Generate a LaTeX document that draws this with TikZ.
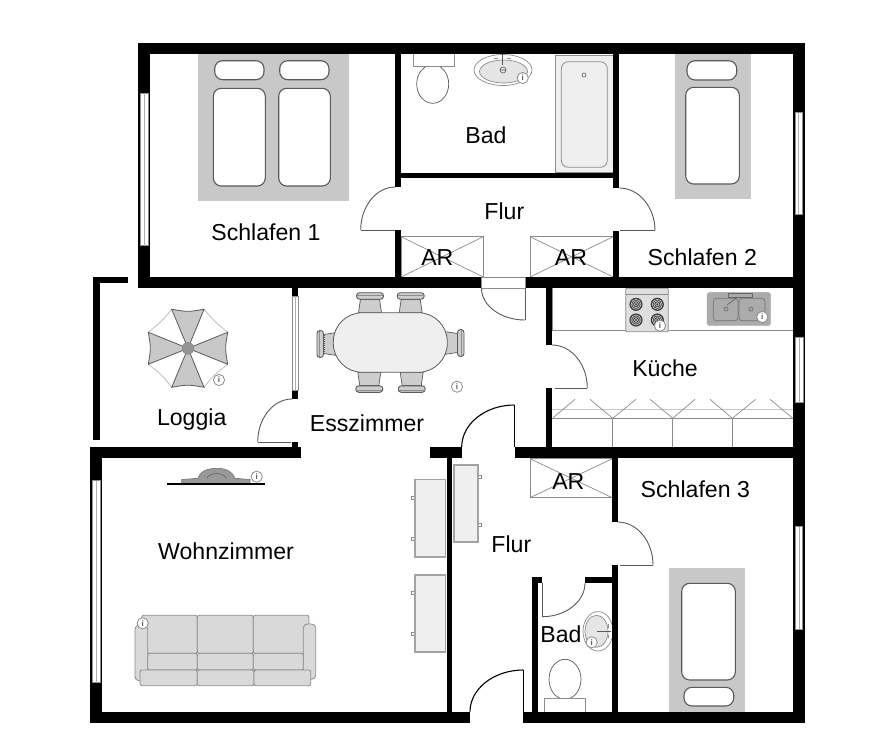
\documentclass[tikz,border=0pt]{standalone}
\usepackage{fontspec}
\setmainfont{Liberation Sans}
\definecolor{bedgrey}{HTML}{C8C8C8}
\definecolor{linegrey}{HTML}{8C8C8C}
\definecolor{darkline}{HTML}{5A5A5A}
\definecolor{softfill}{HTML}{F0EFF0}
\definecolor{sofafill}{HTML}{D9D9D9}
\definecolor{chairfill}{HTML}{CDCDCD}
\definecolor{sinkfill}{HTML}{ABABAB}
\tikzset{
  wall/.style={fill=black,draw=none},
  windowpane/.style={fill=white,draw=linegrey,line width=.8pt},
  lbl/.style={anchor=base,inner sep=0pt,font=\fontsize{23.1}{26}\selectfont,text=black},
  doorleaf/.style={draw=darkline,line width=.9pt},
  doorblack/.style={draw=black,line width=1.1pt},
  mattress/.style={fill=white,draw=darkline,line width=1.1pt,rounded corners=8pt},
  pillowbox/.style={fill=white,draw=darkline,line width=1.1pt,rounded corners=8pt},
  bedbase/.style={fill=bedgrey,draw=none},
  closetbox/.style={fill=white,draw=linegrey,line width=.8pt},
  closetx/.style={draw=linegrey,line width=.7pt},
  cabinet/.style={fill=softfill,draw=linegrey!80!white,line width=1.6pt},
  knob/.style={fill=white,draw=linegrey,line width=.7pt},
  fixture/.style={fill=white,draw=darkline,line width=.7pt},
  sinkline/.style={draw=linegrey,line width=.7pt},
  sofapart/.style={fill=sofafill,draw=linegrey,line width=.8pt,rounded corners=2pt},
  sofaarm/.style={fill=sofafill,draw=linegrey,line width=.8pt,rounded corners=4pt},
  counter/.style={draw=linegrey,line width=1pt},
  info/.pic={
    \filldraw[fill=white,draw=linegrey,line width=.8pt] (0,0) circle (5.6);
    \node[inner sep=0pt,text=darkline,font=\fontsize{8}{8}\selectfont\bfseries] (g) at (0,0) {i};
  },
  chair/.pic={
    \filldraw[fill=chairfill,draw=darkline,line width=.7pt] (-11.5,0) -- (-9.5,-13.5) -- (9.5,-13.5) -- (11.5,0) -- cycle;
    \filldraw[fill=chairfill,draw=darkline,line width=.9pt,rounded corners=3pt] (-13.5,-20) rectangle (13.5,-13.5);
    \draw[darkline,line width=1pt,dash pattern=on 1pt off 1pt] (-10,-13) -- (10,-13);
    \draw[linegrey,line width=.6pt] (-13,-17.5) -- (13,-17.5);
  }
}
\newcommand{\qarc}[5]{\draw[#1] (#2,#3) .. controls ({#2+.55*(#4-#2)},#3) and (#4,{#5-.55*(#5-#3)}) .. (#4,#5);}
\newcommand{\burner}[2]{%
  \fill[black!75] (#1,#2) circle (6.6);
  \draw[white!85!black,line width=.5pt] (#1,#2) circle (5) (#1,#2) circle (3.4) (#1,#2) circle (1.8);
}
\begin{document}
\begin{tikzpicture}[x=1pt,y=-1pt]
\useasboundingbox (0,0) rectangle (869,745);
\fill[white] (0,0) rectangle (869,745);

% ---------- fixtures under the walls
% Schlafen 1 bed
\fill[bedbase] (198.3,50) rectangle (349,200.7);
\draw[pillowbox] (214.7,60.7) rectangle (264,79.7);
\draw[pillowbox] (279.7,60.7) rectangle (329,79.7);
\draw[mattress] (213.3,88.3) rectangle (265.3,186);
\draw[mattress] (278.7,88.3) rectangle (330.3,186);
% Schlafen 2 bed
\fill[bedbase] (675,50) rectangle (751,198.7);
\draw[pillowbox] (687,60.7) rectangle (736.7,80);
\draw[mattress] (685.7,87.3) rectangle (739.3,184);
% Schlafen 3 bed
\fill[bedbase] (669,567.7) rectangle (745,715);
\draw[mattress] (681.7,583.3) rectangle (735.3,680);
\draw[pillowbox] (684,687.3) rectangle (733.7,706);
% Bad top: toilet
\draw[fixture] (432.7,84) ellipse [x radius=16,y radius=19.3];
\filldraw[fill=white,draw=linegrey,line width=.8pt] (413.3,50) rectangle (454,66.7);
% Bad top: sink
\draw[sinkline,fill=white] (503,70) ellipse [x radius=29,y radius=15.5];
\draw[sinkline,fill=black!10] (503.5,71.5) ellipse [x radius=24,y radius=11.5];
\draw[darkline,line width=1.4pt] (502.7,54) -- (502.7,65);
\draw[linegrey,line width=1pt] (494,58.5) -- (498,58.5) (507,58.5) -- (511,58.5);
\draw[darkline,line width=.6pt] (503,70) circle (3) (500,70) -- (506,70);
\pic (infa) at (522.7,78) {info};
% Bathtub
\filldraw[fill=softfill,draw=linegrey,line width=.8pt] (555.7,55) rectangle (613.3,172.7);
\filldraw[fill=softfill,draw=linegrey,line width=.8pt,rounded corners=7pt] (561.3,61.7) rectangle (607.3,167.3);
\draw[darkline,line width=.6pt] (584,75) circle (2);
% AR closets
\draw[closetbox] (401,236.7) rectangle (483.3,277);
\draw[closetx] (401,236.7) -- (483.3,277) (401,277) -- (483.3,236.7);
\draw[closetbox] (530,236.7) rectangle (613.3,277);
\draw[closetx] (530,236.7) -- (613.3,277) (530,277) -- (613.3,236.7);
\draw[closetbox] (530,458.7) rectangle (612.3,497.7);
\draw[closetx] (530,458.7) -- (612.3,497.7) (530,497.7) -- (612.3,458.7);

% Kitchen upper counter
\draw[linegrey,line width=.8pt] (552,288) -- (552,330.7) (793,288) -- (793,330.7);
\draw[counter] (552,330.7) -- (793,330.7);
\filldraw[fill=black!13,draw=linegrey,line width=.8pt,rounded corners=1pt] (625.7,288.3) rectangle (668.3,331.7);
\draw[linegrey,line width=.8pt] (625.7,294.3) -- (668.3,294.3);
\burner{636}{304.3}\burner{657.3}{304.3}\burner{636}{320}\burner{657.3}{320}
\pic (infb) at (660,325.7) {info};
\filldraw[fill=sinkfill,draw=sinkfill,rounded corners=3pt] (707,292.3) rectangle (770.7,325.7);
\filldraw[fill=sinkfill,draw=black!55,line width=.7pt,rounded corners=3pt] (713.3,298.3) rectangle (738,320.7);
\filldraw[fill=sinkfill,draw=black!55,line width=.7pt,rounded corners=3pt] (739,298.3) rectangle (765,320.7);
\draw[black!60,line width=.7pt] (728,293.5) rectangle (752,297);
\draw[black!60,line width=.7pt] (738,297) -- (727,305);
\draw[black!60,line width=.6pt] (726,309) circle (2) (751,309) circle (2);
\pic (infc) at (762.3,317) {info};
% Kitchen lower counter
\draw[bedgrey,line width=1pt] (552,409) -- (793,409);
\draw[counter] (552,418.3) -- (793,418.3);
\draw[counter] (612.7,418.3) -- (612.7,446.7) (672.7,418.3) -- (672.7,446.7) (732.3,418.3) -- (732.3,446.7) (793,409) -- (793,446.7);
\draw[linegrey,line width=.7pt] (553,417.7) -- (575,399.3)
  (590,399.3) -- (612.7,418.3) -- (636,399.3)
  (650,399.3) -- (672.7,418.3) -- (695,399.3)
  (710,399.3) -- (732.3,418.3) -- (755.7,399.3)
  (770,399.3) -- (792.7,418.3);

% Umbrella
\begin{scope}[line width=.8pt]
\draw[bedgrey,line width=1pt]
  (204,309.3) .. controls (214,321) .. (227.7,332.3)
  (227.7,364.3) .. controls (214,375) .. (204,387.3)
  (171.7,387.3) .. controls (162,375) .. (148.3,364.3)
  (148.3,332.3) .. controls (162,321) .. (171.7,309.3);
\filldraw[fill=bedgrey,draw=darkline] (188,348.3) -- (171.7,309.3) .. controls (188,312) .. (204,309.3) -- cycle;
\filldraw[fill=bedgrey,draw=darkline] (188,348.3) -- (227.7,332.3) .. controls (225,348.3) .. (227.7,364.3) -- cycle;
\filldraw[fill=bedgrey,draw=darkline] (188,348.3) -- (204,387.3) .. controls (188,384.5) .. (171.7,387.3) -- cycle;
\filldraw[fill=bedgrey,draw=darkline] (188,348.3) -- (148.3,364.3) .. controls (151,348.3) .. (148.3,332.3) -- cycle;
\filldraw[fill=black!42,draw=darkline!70!white] (188,348.3) circle (5.8);
\end{scope}
\pic (infd) at (219,380) {info};

% Dining table and chairs
\pic[rotate=0] at (370,312.7) {chair};
\pic[rotate=0] at (410.7,312.7) {chair};
\pic[rotate=180] at (369.3,372.3) {chair};
\pic[rotate=180] at (411.7,372.3) {chair};
\pic[rotate=90] at (337,344) {chair};
\pic[rotate=-90] at (444,343) {chair};
\filldraw[fill=softfill,draw=darkline,line width=.8pt,rounded corners=29pt] (333.3,312.7) rectangle (447.3,372.3);
\pic (infe) at (457,386.7) {info};

% TV
\filldraw[fill=black!40,draw=black!55,line width=.6pt] (181.7,484) -- (181.7,479.5) -- (198,478.3)
  .. controls (200,471) and (208,468.3) .. (216.7,468.3)
  .. controls (226,468.3) and (232,471) .. (235,478.3) -- (250,479.5) -- (250,484) -- cycle;
\draw[black!60,line width=.7pt] (207,478) .. controls (210,472) and (223,472) .. (226,478);
\draw[black,line width=1.6pt] (167.3,484) -- (265.3,484);
\pic (inff) at (256.7,476.7) {info};

% Sofa
\draw[sofapart] (141.7,615.3) rectangle (197.3,653.3);
\draw[sofapart] (197.3,615.3) rectangle (253.3,653.3);
\draw[sofapart] (253.3,615.3) rectangle (309,653.3);
\draw[sofaarm] (135,625) rectangle (147.7,680.7);
\draw[sofaarm] (303.3,624) rectangle (315.7,679.3);
\draw[sofapart] (147.7,653.3) rectangle (197.3,670);
\draw[sofapart] (197.3,653.3) rectangle (253.3,670);
\draw[sofapart] (253.3,653.3) rectangle (303.3,670);
\draw[sofapart] (140,670) rectangle (197.3,685.7);
\draw[sofapart] (197.3,670) rectangle (254,685.7);
\draw[sofapart] (254,670) rectangle (310.7,685.7);
\pic (infg) at (142.7,623.3) {info};

% Cabinets
\filldraw[knob] (411,496.5) rectangle (414.3,499.5);
\filldraw[knob] (411,537.5) rectangle (414.3,540.5);
\filldraw[knob] (411,591.8) rectangle (414.3,594.8);
\filldraw[knob] (411,632.5) rectangle (414.3,635.5);
\filldraw[knob] (478.3,475.2) rectangle (481.5,478.2);
\filldraw[knob] (478.3,523.8) rectangle (481.5,526.8);
\filldraw[cabinet] (414.8,479.5) rectangle (445.5,557);
\filldraw[cabinet] (414.8,574.8) rectangle (445.5,652);
\filldraw[cabinet] (454,464.8) rectangle (478.2,541.8);

% Lower Bad: sink and toilet
\draw[sinkline,fill=white] (598,631.3) ellipse [x radius=15,y radius=19.7];
\draw[sinkline,fill=black!10] (596.5,631.3) ellipse [x radius=11.5,y radius=16];
\draw[darkline,line width=1pt] (597,631) -- (611,631);
\draw[linegrey,line width=1pt] (608,624) -- (608,627.5) (608,634.5) -- (608,638);
\pic (infh) at (591.7,642.3) {info};
\draw[fixture] (565,679.3) ellipse [x radius=16,y radius=20];
\filldraw[fill=white,draw=linegrey,line width=.8pt] (544.7,698.3) rectangle (585.7,715);

% ---------- walls
% outer upper block
\fill[wall] (138,42.7) rectangle (805,54.3);
\fill[wall] (138,42.7) rectangle (150,288.3);
\fill[wall] (793,42.7) rectangle (805,723.3);
\fill[wall] (138,276.7) rectangle (481.3,288.3);
\fill[wall] (525,276.7) rectangle (805,288.3);
% Bad walls
\fill[wall] (395.3,54) rectangle (401,186.7);
\fill[wall] (395.3,230) rectangle (401,277);
\fill[wall] (395.3,172.7) rectangle (619.3,178.3);
\fill[wall] (613.3,54) rectangle (619.3,187.7);
\fill[wall] (613.3,230.7) rectangle (619.3,277);
% Kitchen wall
\fill[wall] (546,288) rectangle (552,345);
\fill[wall] (546,388.3) rectangle (552,447);
% Middle horizontal
\fill[wall] (514.5,446.7) rectangle (805,458.3);
\fill[wall] (430.3,446.7) rectangle (461.7,458.3);
\fill[wall] (90.3,446.7) rectangle (301,458.3);
% Wohnzimmer
\fill[wall] (90.3,446.7) rectangle (102.3,723.3);
\fill[wall] (90.3,711.7) rectangle (470,723.3);
\fill[wall] (523.3,711.7) rectangle (805,723.3);
\fill[wall] (447,458) rectangle (452.3,712);
% Loggia
\fill[wall] (93.3,277.3) rectangle (100,440);
\fill[wall] (93.3,277.3) rectangle (128.3,282.7);
\fill[wall] (292.3,288) rectangle (298.3,296);
\fill[wall] (292.3,390.7) rectangle (298.3,399.3);
\fill[wall] (292.3,442.3) rectangle (298.3,447);
% Schlafen 3 and lower Bad
\fill[wall] (612.3,458) rectangle (617.7,521.7);
\fill[wall] (612.3,565) rectangle (617.7,712);
\fill[wall] (532.3,576.7) rectangle (538.3,712);
\fill[wall] (532.3,576.7) rectangle (542.3,582.7);
\fill[wall] (585,576.7) rectangle (612.3,582.7);

% ---------- windows
\foreach \xa/\xb/\ya/\yb in {140/148.3/93.3/245.7, 795/802.7/112.7/214, 795.7/803.3/337.3/402.7,
    795.3/802.7/526.7/629, 92.3/100.7/480.7/682.7, 292/298.5/296/390.7}{
  \filldraw[windowpane] (\xa,\ya) rectangle (\xb,\yb);
  \draw[linegrey!70!white,line width=.8pt] ({(\xa+\xb)/2},\ya) -- ({(\xa+\xb)/2},\yb);
}

% ---------- doors
% gap in wall between Flur and Esszimmer
\filldraw[fill=white,draw=linegrey,line width=.7pt] (481.3,277.3) rectangle (525,288.3);
\draw[doorleaf] (525,288.3) -- (525,320);
\qarc{doorleaf}{525}{320}{481.5}{288.3}
% Schlafen 1
\qarc{doorleaf}{395.3}{187}{360.7}{230}
\draw[doorleaf] (360.7,230) -- (395,230);
% Schlafen 2
\qarc{doorleaf}{619.3}{188}{655}{230.7}
\draw[doorleaf] (620,230.7) -- (655,230.7);
% Kueche
\qarc{doorleaf}{552}{345}{587.3}{388}
\draw[doorleaf] (555,388) -- (587.3,388);
% Loggia
\qarc{doorleaf}{292}{399}{257.7}{442}
\draw[doorleaf] (257.7,442) -- (291,442);
% Flur to Esszimmer
\draw[doorblack] (514.3,446.7) -- (514.3,405);
\qarc{doorblack}{514.3}{405}{461.7}{447}
% Entrance
\draw[doorblack] (523.3,712) -- (523.3,670);
\qarc{doorblack}{523.3}{670}{470}{711.7}
% Schlafen 3
\qarc{doorleaf}{617.7}{522}{653}{565}
\draw[doorleaf] (620,565) -- (653,565);
% lower Bad
\draw[doorleaf] (542.3,582.7) -- (542.3,616.7);
\qarc{doorleaf}{542.3}{616.7}{585}{583}

% ---------- labels
\node[lbl] (schlafeneins) at (266,240.7) {Schlafen 1};
\node[lbl] (badoben) at (486,143) {Bad};
\node[lbl] (flurzwei) at (504.3,219.3) {Flur};
\node[lbl] (areins) at (437.3,265) {AR};
\node[lbl] (arzwei) at (571,265) {AR};
\node[lbl] (schlafenzwei) at (702.3,265) {Schlafen 2};
\node[lbl] (loggia) at (191.7,425.7) {Loggia};
\node[lbl] (esszimmer) at (367,431) {Esszimmer};
\node[lbl] (kueche) at (665,376.7) {Küche};
\node[lbl] (wohnzimmer) at (226,559) {Wohnzimmer};
\node[lbl] (ardrei) at (568.3,489) {AR};
\node[lbl] (schlafendrei) at (695.3,497.3) {Schlafen 3};
\node[lbl] (flureins) at (511.3,552.7) {Flur};
\node[lbl] (badunten) at (561,642.7) {Bad};
\end{tikzpicture}
\end{document}
